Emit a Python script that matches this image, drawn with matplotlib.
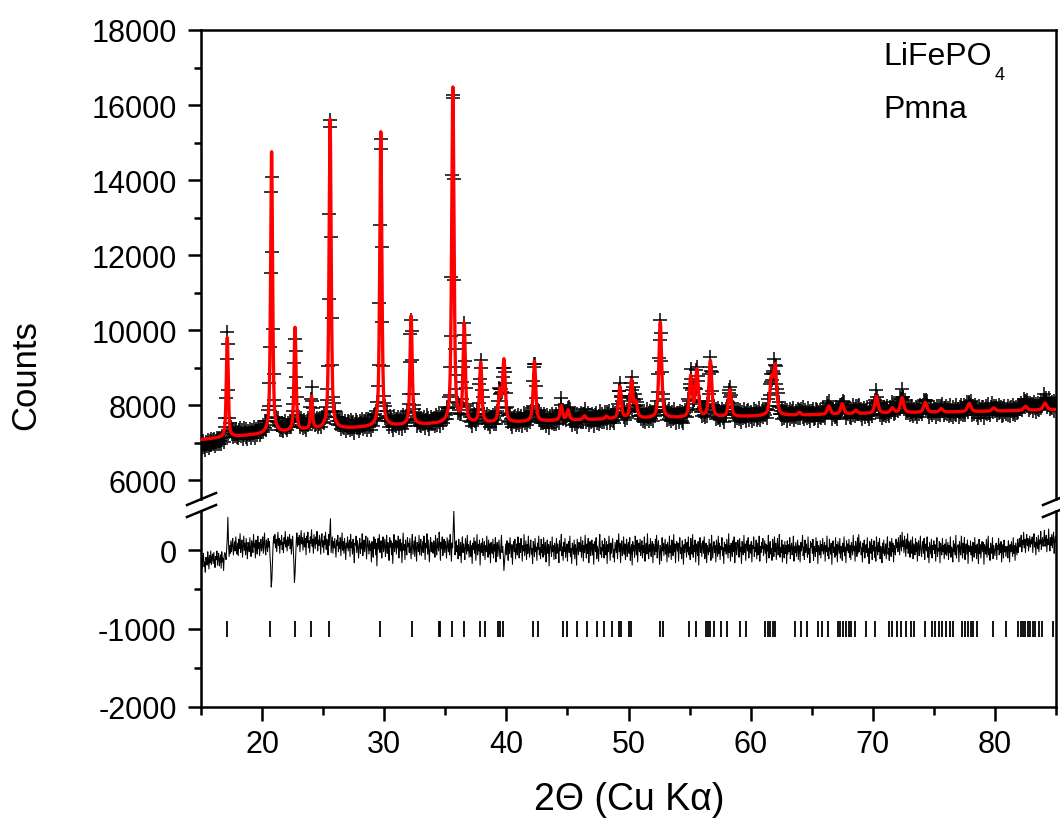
import numpy as np
import matplotlib
matplotlib.use("Agg")
import matplotlib.pyplot as plt
from matplotlib.lines import Line2D
from matplotlib.ticker import FixedLocator

plt.rcParams['font.family'] = ['Liberation Sans', 'DejaVu Sans']
plt.rcParams['axes.unicode_minus'] = False

# ---------------- data ----------------
two_theta_start = 15.0
two_theta_step = 0.05

# background of the refined profile (2theta, counts)
bg_two_theta = [15, 18, 20, 22, 24, 27, 31, 34, 40, 45, 50, 55, 60, 65, 70, 75, 80, 85]
bg_counts = [7080, 7170, 7220, 7280, 7350, 7380, 7450, 7490, 7530, 7600, 7640, 7660,
             7700, 7740, 7780, 7810, 7840, 7880]

# reflections of the calculated profile
peak_pos = [17.15, 20.78, 22.70, 24.05, 25.57, 29.72, 32.20, 35.62, 36.55, 37.90,
            39.45, 39.80, 42.30, 44.50, 45.05, 46.40, 48.20, 49.30, 50.25, 50.60,
            52.60, 55.10, 55.60, 56.70, 58.30, 61.70, 62.00, 64.00, 66.40, 67.50,
            68.60, 70.30, 71.60, 72.40, 74.30, 75.60, 77.90, 79.90, 82.50, 84.10]
peak_height = [2650, 7500, 2750, 850, 8250, 7850, 2900, 8950, 2600, 1600,
               800, 1650, 1600, 380, 260, 100, 70, 850, 1000, 400,
               2550, 1080, 1250, 1500, 720, 900, 1250, 70, 220, 270,
               90, 450, 130, 400, 260, 90, 220, 90, 110, 180]
peak_fwhm = [0.18, 0.19, 0.19, 0.19, 0.20, 0.20, 0.21, 0.22, 0.22, 0.22,
             0.23, 0.26, 0.24, 0.24, 0.24, 0.25, 0.25, 0.25, 0.26, 0.26,
             0.26, 0.27, 0.27, 0.27, 0.28, 0.30, 0.30, 0.29, 0.30, 0.30,
             0.31, 0.31, 0.32, 0.32, 0.32, 0.33, 0.33, 0.34, 0.34, 0.35]

# difference (observed - calculated), one value every 0.05 deg from 15.00 to 85.00
difference = [
    -150, -60, -230, -120, -40, -210, -150, -280, -90, -130,
    -190, -20, -110, -240, -70, -160, -10, -180, -100, -50,
    -170, -30, -140, -220, -80, -120, -10, -190, -90, -40,
    -200, -120, -60, -230, -20, -150, -100, -260, -70, -30,
    -60, -120, 20, 150, 420, 100, -80, 60, -40, 120,
    -20, 80, 150, -60, 30, 110, -10, 170, 40, -50,
    90, -70, 140, 20, 210, -30, 60, 130, -90, 40,
    180, 0, 90, -60, 150, 30, -110, 100, 50, -20,
    160, 10, -80, 120, 60, -30, 200, 40, 90, -100,
    130, 70, -50, 180, 20, 100, -70, 60, 140, -10,
    50, 170, -40, 90, 220, 10, -60, 130, 80, -20,
    150, 40, 110, -80, -200, -470, -380, -150, 60, 180,
    90, 200, 30, 140, -20, 110, 230, 60, 150, -40,
    120, 70, 190, 10, 100, -30, 160, 80, 240, 40,
    130, -10, 170, 60, 100, 200, 20, 140, -50, 90,
    180, 30, -150, -410, -300, -80, 120, 220, 50, 160,
    70, 190, -20, 130, 250, 80, 160, 0, 110, 220,
    40, 150, -60, 180, 100, 230, 30, 120, -30, 170,
    90, 260, 50, 140, -40, 200, 110, 20, 170, 80,
    240, -10, 130, 60, 190, 100, -50, 150, 210, 40,
    120, -30, 180, 70, 230, 10, 140, 90, -60, 200,
    60, 250, 400, -30, 80, 170, -40, 110, 30, 150,
    40, -90, 130, 60, 190, -20, 100, 20, 160, -70,
    80, 220, 0, 110, -40, 150, 50, -120, 90, 30,
    170, -10, 60, 130, -80, 200, 30, 100, -50, 140,
    10, -160, 90, 60, 180, -30, 120, 40, -100, 70,
    150, -40, 90, 20, 210, -70, 50, 130, -20, 100,
    180, -110, 30, 160, 60, -50, 120, 0, 80, -150,
    110, 40, -90, 170, 20, 140, -60, 90, -200, 60,
    150, 10, 200, -30, 80, 120, -100, 50, 170, -20,
    60, 140, -80, 30, 190, -40, 100, 10, -130, 160,
    40, 120, -60, 90, -170, 50, 200, -20, 80, 130,
    -50, 110, 30, 180, -100, 60, 140, -10, 90, -160,
    40, 220, 0, 70, -120, 130, 20, -60, 160, 50,
    90, -30, 150, 10, -110, 80, 200, -50, 40, 120,
    -80, 170, 30, -140, 100, 60, -20, 190, -60, 70,
    140, -70, 20, 110, -30, 180, 60, -120, 90, 30,
    210, -50, 130, 0, -150, 70, 160, -20, 100, 40,
    -40, 120, 80, -90, 190, 30, -60, 150, 50, -10,
    230, 70, -130, 100, 20, 170, -70, 60, 140, -30,
    110, 40, -100, 160, 70, -20, 130, -60, 200, 50,
    -140, 90, 30, 250, 500, 200, -60, 80, 120, -20,
    60, -110, 140, 20, -70, 100, -160, 50, 170, -30,
    80, 10, -120, 150, 40, -50, 190, -10, 70, -90,
    30, 120, -80, 60, -170, 90, 10, 160, -40, 110,
    -130, 40, 200, -60, 70, -10, 130, -190, 50, 90,
    -30, 150, -70, 40, 110, -120, 60, -20, 180, 10,
    -90, 130, -50, 80, -160, 100, 20, -40, 140, -100,
    70, -10, 160, -150, 40, 100, -80, 20, 130, -40,
    -110, 60, 190, -30, 50, -70, -260, -150, -30, 80,
    -60, 120, 10, -130, 90, -40, 160, 30, -90, 70,
    -180, 50, 110, -20, 140, -110, 0, 80, -60, 170,
    20, -100, 90, -30, 150, 40, -140, 60, -10, 200,
    -70, 30, 120, -120, 70, -40, 180, 10, -90, 50,
    130, -50, 20, -170, 110, 60, -80, 150, -20, 40,
    -130, 90, 10, 180, -60, 30, -110, 140, -30, 70,
    -90, 160, 40, -60, 100, -150, 20, 130, -40, 70,
    -200, 50, 110, 0, -80, 170, -20, 60, -120, 90,
    30, -110, 150, -40, 80, 10, -160, 120, -10, 60,
    200, -70, 40, -130, 100, -20, 150, -90, 20, 80,
    -140, 60, 110, -30, 180, -80, 20, -170, 90, 40,
    -50, 130, -110, 70, 10, -190, 140, 30, -60, 100,
    50, -20, 170, -90, 40, 120, -140, 60, -30, 190,
    10, -100, 80, -40, 150, -160, 30, 110, -70, 20,
    130, -60, 80, -180, 40, 110, -20, 160, -110, 50,
    0, -140, 90, 200, -50, 30, -90, 120, -10, 70,
    -100, 150, 20, -60, 110, -170, 70, -20, 180, 30,
    -130, 90, -40, 60, 150, -90, 10, -150, 100, 40,
    -30, 130, -110, 60, 210, -20, 90, -160, 40, 120,
    -70, 10, 170, -50, 80, -120, 30, 140, -80, 50,
    100, -40, 160, -130, 20, 70, -190, 110, -10, 60,
    -90, 180, 30, -60, 130, -150, 50, 90, -20, 140,
    -70, 40, 120, -100, 60, -30, 170, -140, 20, 90,
    -50, 210, 10, -110, 70, -20, 150, -80, 40, 110,
    -160, 80, 30, -60, 140, -20, 190, -100, 50, 120,
    -40, -180, 60, 20, -130, 160, -10, 90, -70, 30,
    140, -50, 70, -150, 100, 10, -90, 180, -30, 60,
    -120, 130, 40, -70, 200, -20, 80, -160, 50, 110,
    -10, 90, -140, 60, 160, -40, 30, -110, 120, 20,
    -180, 70, -30, 140, 50, -90, 100, -20, 170, -60,
    40, -120, 150, 10, -50, 200, -90, 60, -20, 130,
    -150, 80, 30, -70, 110, -190, 40, 160, -30, 90,
    -80, 50, 120, -40, 170, -110, 20, 90, -160, 60,
    10, -60, 140, -20, 80, -130, 190, 30, -100, 50,
    110, -30, 60, -150, 130, 20, -80, 180, -40, 90,
    -120, 50, 10, 160, -70, 30, -170, 100, -10, 70,
    -50, 140, 30, -100, 210, -30, 60, -140, 90, 20,
    -80, 120, -20, 170, -160, 40, 100, -60, 10, 130,
    60, -90, 150, -20, 40, -170, 110, 10, -60, 190,
    -30, 80, -130, 50, 120, -10, 160, -100, 30, 70,
    -40, 110, -150, 60, 20, 170, -80, 40, -20, 130,
    -110, 90, -60, 10, 180, -140, 50, -30, 100, 20,
    150, -70, 30, 120, -40, 80, -160, 60, -10, 190,
    -100, 40, 110, -50, 20, -130, 140, 60, -80, 170,
    -20, 90, -120, 40, 150, -60, 10, 200, -90, 30,
    -30, 130, -150, 70, 20, -100, 110, -40, 60, -170,
    120, -50, 70, -20, 160, -110, 40, 90, -60, 10,
    180, -140, 50, -30, 100, -80, 20, 130, -120, 60,
    30, -150, 100, -10, 60, 190, -70, 40, -120, 130,
    -30, 80, 10, -90, 170, -50, 20, -160, 110, 40,
    90, -40, 140, -130, 50, 10, -80, 160, -20, 110,
    -170, 60, 30, -60, 120, -100, 70, -10, 150, -50,
    20, 100, -140, 60, -20, 180, -70, 30, -110, 140,
    10, -50, 90, -180, 60, 120, -30, 40, -90, 160,
    -60, 70, -150, 110, 30, -40, 150, -100, 50, 10,
    -130, 90, -20, 170, -70, 40, -160, 120, 0, 80,
    -30, 140, -90, 60, -120, 100, 20, -60, 190, -10,
    50, -140, 110, 30, -80, 160, -40, 200, -20, 70,
    110, -60, 30, -150, 90, -20, 130, -100, 40, 70,
    -30, 160, -80, 20, -170, 110, 50, -40, 140, -120,
    60, -10, 120, -90, 40, -140, 170, 30, -60, 100,
    -20, 150, -110, 50, 10, -160, 90, -40, 130, -70,
    -30, 80, -110, 60, 170, -50, 20, -130, 110, 40,
    -80, 150, -20, 90, -150, 60, 10, -60, 140, 30,
    100, -20, 160, 40, -60, 190, 70, -10, 230, 50,
    120, -30, 180, 60, -80, 140, 20, 210, -40, 110,
    60, -90, 130, 10, -40, 170, -110, 80, 20, -60,
    150, -20, 100, -140, 50, 120, -70, 30, 180, -30,
    -80, 60, 110, -40, 150, -120, 30, 80, -10, 170,
    -90, 40, -160, 100, 20, -50, 140, -100, 60, 10,
    120, -40, 70, -140, 40, 160, -80, 20, -10, 110,
    -160, 90, 30, -60, 150, -20, 60, -110, 80, -50,
    140, -70, 20, 100, -120, 60, -30, 170, -90, 40,
    10, -150, 120, -20, 80, -60, 190, -100, 30, 60,
    70, -150, 110, 0, -60, 180, 30, -100, 90, -30,
    160, -120, 40, 80, -50, 130, -170, 60, 10, -20,
    120, -60, 50, -140, 100, 20, -90, 160, -30, 60,
    -110, 80, 10, -170, 140, -40, 70, -100, 30, 110,
    -20, 100, -180, 70, 30, -50, 140, -90, 50, 180,
    -60, 20, -130, 90, 10, -40, 160, -110, 60, -10,
    -70, 40, 90, -120, 60, 10, 150, -60, 80, -30,
    110, -150, 40, 70, -100, 130, -20, 50, -80, 20,
    50, -100, 120, 30, -150, 70, -20, 110, 20, -80,
    160, -40, 60, -130, 90, 10, -60, 140, -30, 80,
    150, 40, 100, 190, -20, 120, 70, 230, 30, 140,
    -30, 110, 200, 60, 150, -10, 90, 180, 40, 130,
    80, 170, -30, 120, 210, 40, 100, -60, 160, 70,
    20, 190, -20, 130, 80, 240, 10, 110, 160, 50,
    120, 250, 50, 100, 190, -20, 140, 70, 270, 90,
    -10, 160, 60, 200, 30, 150, 230, -40, 120, 180,
    100,
]

# Bragg reflection positions (tick marks at -1000)
bragg_pos = [17.10, 20.68, 22.68, 24.00, 25.52, 29.65, 32.24, 34.45, 34.60, 35.53,
             36.50, 37.87, 38.28, 39.35, 39.50, 39.70, 42.20, 42.60, 44.60, 45.00,
             45.80, 46.60, 47.40, 48.03, 48.63, 49.20, 49.40, 50.02, 50.22, 52.54,
             52.81, 54.94, 55.49, 56.37, 56.53, 56.64, 56.99, 57.54, 58.09, 59.10,
             59.65, 61.20, 61.40, 61.60, 61.80, 61.96, 63.61, 64.10, 64.65, 65.52,
             65.88, 66.34, 67.16, 67.35, 67.57, 67.79, 68.06, 68.25, 68.52, 69.48,
             70.22, 71.31, 71.61, 72.02, 72.35, 72.76, 73.11, 73.39, 74.26, 74.84,
             75.10, 75.40, 75.70, 76.00, 76.30, 76.56, 77.27, 77.54, 77.80, 78.00,
             78.20, 78.50, 79.86, 80.90, 81.86, 82.10, 82.30, 82.50, 82.70, 82.90,
             83.10, 83.30, 83.60, 83.86, 84.75]
bragg_level = -1000

x_ticks = [20, 30, 40, 50, 60, 70, 80]
x_minor = [15, 25, 35, 45, 55, 65, 75, 85]
upper_yticks = [6000, 8000, 10000, 12000, 14000, 16000, 18000]
upper_yminor = [7000, 9000, 11000, 13000, 15000, 17000]
lower_yticks = [-2000, -1000, 0]
lower_yminor = [-1500, -500]

# ---------------- model profile ----------------
def profile(x):
    y = np.interp(x, bg_two_theta, bg_counts)
    for p, h, w in zip(peak_pos, peak_height, peak_fwhm):
        d = (x - p) / w
        lor = 1.0 / (1.0 + 4.0 * d * d)
        gau = np.exp(-4.0 * np.log(2.0) * d * d)
        y = y + h * (0.6 * lor + 0.4 * gau)
    return y

diff = np.array(difference, dtype=float)
x_obs = two_theta_start + two_theta_step * np.arange(len(diff))
y_obs = profile(x_obs) + diff
x_calc = np.linspace(15, 85, 7001)
y_calc = profile(x_calc)

# ---------------- figure ----------------
W, H = 1060, 820
fig = plt.figure(figsize=(W / 100, H / 100), dpi=100)
ax_top = fig.add_axes([201 / W, 1 - 500 / H, 855 / W, (500 - 31) / H])
ax_bot = fig.add_axes([201 / W, 1 - 708 / H, 855 / W, (708 - 512) / H])

lw_spine = 1.8
fs = 22

ax_top.plot(x_obs, y_obs, ls='none', marker='+', ms=10.5, mew=1.1, color='black', zorder=2)
ax_top.plot(x_calc, y_calc, color='#ff0000', lw=2.4, zorder=3)
ax_top.set_xlim(15, 85)
ax_top.set_ylim(5500, 18000)
ax_top.spines['bottom'].set_visible(False)
ax_top.tick_params(axis='x', which='both', bottom=False, top=False, labelbottom=False)
ax_top.yaxis.set_major_locator(FixedLocator(upper_yticks))
ax_top.yaxis.set_minor_locator(FixedLocator(upper_yminor))

ax_bot.plot(x_obs, diff, color='black', lw=0.75)
ax_bot.plot(bragg_pos, [bragg_level] * len(bragg_pos), ls='none', marker='|',
            ms=12, mew=1.3, color='black')
ax_bot.set_xlim(15, 85)
ax_bot.set_ylim(-2000, 500)
ax_bot.spines['top'].set_visible(False)
ax_bot.xaxis.set_major_locator(FixedLocator(x_ticks))
ax_bot.xaxis.set_minor_locator(FixedLocator(x_minor))
ax_bot.yaxis.set_major_locator(FixedLocator(lower_yticks))
ax_bot.yaxis.set_minor_locator(FixedLocator(lower_yminor))

for ax in (ax_top, ax_bot):
    for s in ax.spines.values():
        s.set_linewidth(lw_spine)
    ax.tick_params(axis='y', which='major', direction='out', length=9.5, width=lw_spine,
                   labelsize=fs, pad=8, right=False)
    ax.tick_params(axis='y', which='minor', direction='out', length=5, width=lw_spine, right=False)
ax_bot.tick_params(axis='x', which='major', direction='out', length=10, width=lw_spine,
                   labelsize=fs, pad=6, top=False)
ax_bot.tick_params(axis='x', which='minor', direction='out', length=5.5, width=lw_spine, top=False)

# axis break marks
def brk(x1, y1, x2, y2):
    fig.add_artist(Line2D([x1 / W, x2 / W], [1 - y1 / H, 1 - y2 / H],
                          transform=fig.transFigure, color='black', lw=1.8))

brk(187, 506, 216, 494)
brk(187, 518, 216, 506)
brk(1043, 506, 1060, 499)
brk(1043, 518, 1060, 511)

# labels
fig.text(26 / W, 1 - 375 / H, 'Counts', rotation=90, ha='center', va='center', fontsize=25)
fig.text(629 / W, 1 - 800 / H, '2\u0398 (Cu K\u03b1)', ha='center', va='center', fontsize=27)
fig.text(883 / W, 1 - 65 / H, 'LiFePO', ha='left', va='baseline', fontsize=23)
fig.text(995 / W, 1 - 80 / H, '4', ha='left', va='baseline', fontsize=13)
fig.text(883 / W, 1 - 118 / H, 'Pmna', ha='left', va='baseline', fontsize=23)

fig.savefig('out.png', dpi=100)
